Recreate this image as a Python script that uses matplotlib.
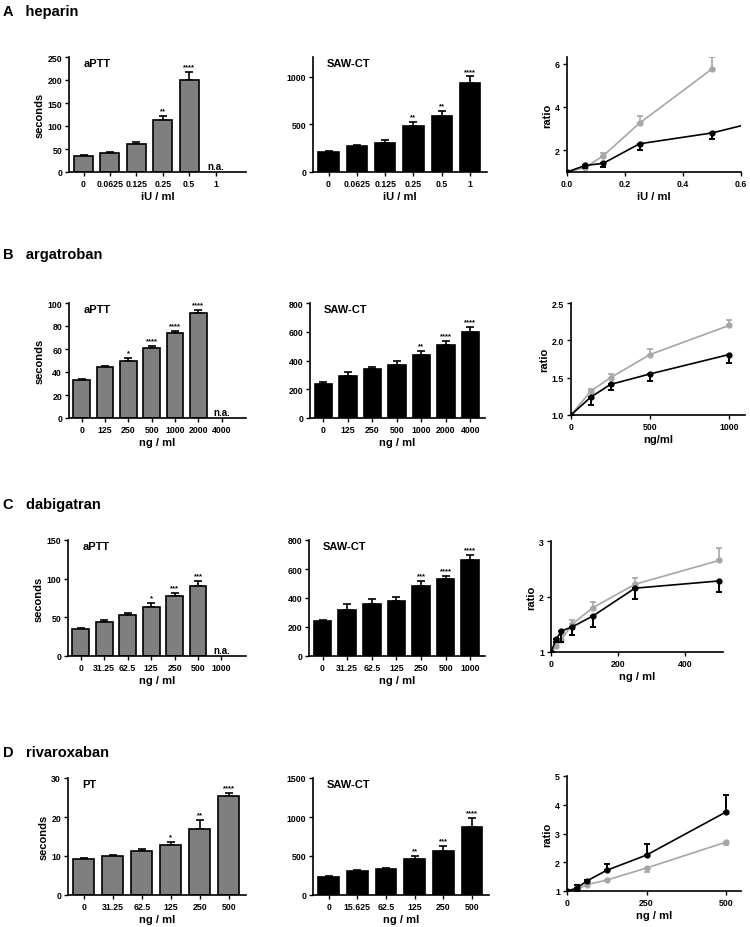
import numpy as np
import matplotlib
matplotlib.use('Agg')
import matplotlib.pyplot as plt

plt.rcParams['font.family'] = ['Liberation Sans', 'DejaVu Sans']
plt.rcParams['font.weight'] = 'bold'
plt.rcParams['axes.labelweight'] = 'bold'

# ---------------- data ----------------
# A heparin
hep_conc = ['0', '0.0625', '0.125', '0.25', '0.5', '1']
hep_aptt = [35, 41, 60, 112, 200, np.nan]
hep_aptt_err = [2, 3, 5, 10, 17, np.nan]
hep_aptt_sig = ['', '', '', '**', '****', '']
hep_saw = [210, 275, 300, 480, 590, 935]
hep_saw_err = [15, 12, 35, 45, 50, 70]
hep_saw_sig = ['', '', '', '**', '**', '****']
hep_x = [0, 0.0625, 0.125, 0.25, 0.5, 1]
hep_ratio_aptt = [1.0, 1.2, 1.75, 3.25, 5.75]
hep_ratio_aptt_err = [0, 0.05, 0.12, 0.35, 0.55]
hep_ratio_saw = [1.0, 1.3, 1.4, 2.3, 2.8, 4.45]
hep_ratio_saw_err = [0, 0.1, 0.18, 0.3, 0.3, 0.3]

# B argatroban
arg_conc = ['0', '125', '250', '500', '1000', '2000', '4000']
arg_aptt = [33, 44, 50, 61, 74, 91, np.nan]
arg_aptt_err = [1, 1, 2, 2, 2, 3, np.nan]
arg_aptt_sig = ['', '', '*', '****', '****', '****', '']
arg_saw = [240, 295, 340, 370, 435, 505, 600]
arg_saw_err = [10, 25, 15, 25, 30, 30, 30]
arg_saw_sig = ['', '', '', '', '**', '****', '****']
arg_x = [0, 125, 250, 500, 1000]
arg_ratio_aptt = [1.0, 1.32, 1.5, 1.81, 2.2]
arg_ratio_aptt_err = [0, 0.03, 0.05, 0.07, 0.07]
arg_ratio_saw = [1.0, 1.24, 1.41, 1.55, 1.81]
arg_ratio_saw_err = [0, 0.1, 0.08, 0.1, 0.12]

# C dabigatran
dab_conc = ['0', '31.25', '62.5', '125', '250', '500', '1000']
dab_aptt = [35, 44, 53, 63, 77, 90, np.nan]
dab_aptt_err = [1, 2, 3, 5, 5, 7, np.nan]
dab_aptt_sig = ['', '', '', '*', '***', '***', '']
dab_saw = [240, 315, 358, 378, 485, 533, 660]
dab_saw_err = [8, 45, 35, 28, 30, 22, 35]
dab_saw_sig = ['', '', '', '', '***', '****', '****']
dab_x = [0, 15.625, 31.25, 62.5, 125, 250, 500]
dab_ratio_aptt = [1.0, 1.1, 1.22, 1.5, 1.8, 2.22, 2.65]
dab_ratio_aptt_err = [0, 0.05, 0.08, 0.08, 0.1, 0.12, 0.22]
dab_ratio_saw = [1.0, 1.23, 1.38, 1.45, 1.65, 2.15, 2.28]
dab_ratio_saw_err = [0, 0.05, 0.2, 0.15, 0.2, 0.2, 0.2]

# D rivaroxaban
riv_pt_conc = ['0', '31.25', '62.5', '125', '250', '500']
riv_pt = [9.3, 9.9, 11.4, 12.9, 17.0, 25.4]
riv_pt_err = [0.3, 0.3, 0.3, 0.6, 2.2, 0.8]
riv_pt_sig = ['', '', '', '*', '**', '****']
riv_saw_conc = ['0', '15.625', '62.5', '125', '250', '500']
riv_saw = [235, 305, 335, 465, 565, 875]
riv_saw_err = [10, 12, 15, 40, 65, 110]
riv_saw_sig = ['', '', '', '**', '***', '****']
riv_x = [0, 31.25, 62.5, 125, 250, 500]
riv_ratio_pt = [1.0, 1.05, 1.22, 1.38, 1.8, 2.7]
riv_ratio_pt_err = [0, 0.05, 0.05, 0.03, 0.15, 0.1]
riv_ratio_saw = [1.0, 1.1, 1.35, 1.72, 2.25, 3.75]
riv_ratio_saw_err = [0, 0.1, 0.05, 0.22, 0.4, 0.6]

GRAY_BAR = '#7f7f7f'
GRAY_LINE = '#a6a6a6'

fig = plt.figure(figsize=(7.5, 9.28), dpi=100)


def px_axes(l, t, r, b):
    return fig.add_axes([l / 750, 1 - b / 928, (r - l) / 750, (b - t) / 928])


def style(ax):
    ax.spines['top'].set_visible(False)
    ax.spines['right'].set_visible(False)
    for s in ['left', 'bottom']:
        ax.spines[s].set_linewidth(1.2)
    ax.tick_params(width=1.0, length=3, labelsize=6.3, pad=2)


def bar_panel(rect, cats, vals, errs, sig, color, ylim, yticks, title, xlabel, ylabel=None, xpad=0.1):
    ax = px_axes(*rect)
    style(ax)
    x = np.arange(len(cats))
    vals = np.array(vals, dtype=float)
    errs = np.array(errs, dtype=float)
    ok = ~np.isnan(vals)
    ax.bar(x[ok], vals[ok], width=0.72, color=color, edgecolor='black', linewidth=1.2, zorder=2)
    ax.errorbar(x[ok], vals[ok], yerr=[np.zeros(ok.sum()), errs[ok]], fmt='none',
                ecolor='black', elinewidth=1.2, capsize=3, capthick=1.2, zorder=1)
    span = ylim[1] - ylim[0]
    for i in x:
        if not ok[i]:
            ax.text(i, span * 0.01, 'n.a.', ha='center', va='bottom', fontsize=7)
        elif sig[i]:
            ax.text(i, vals[i] + errs[i] + span * 0.015, sig[i], ha='center', va='bottom', fontsize=5.5)
    ax.set_xlim(-0.55, len(cats) - 0.5 + xpad)
    ax.set_ylim(*ylim)
    ax.set_yticks(yticks)
    ax.set_xticks(x)
    ax.set_xticklabels(cats)
    ax.set_xlabel(xlabel, fontsize=8, labelpad=2)
    if ylabel:
        ax.set_ylabel(ylabel, fontsize=8, labelpad=2)
    ax.text(0.08, 0.99, title, transform=ax.transAxes, ha='left', va='top', fontsize=8)
    return ax


def ratio_panel(rect, xa, ya, ea, a_up, xs, ys, es, xlim, ylim, xticks, yticks, xlabel, xfmt=None, yfmt=None):
    ax = px_axes(*rect)
    style(ax)
    na = len(ya)
    ns = len(ys)
    ea = np.array(ea)
    es = np.array(es)
    zero_a = np.zeros(na)
    zero_s = np.zeros(ns)
    yerr_a = [zero_a, ea] if a_up else [ea, zero_a]
    yerr_s = [es, zero_s] if a_up else [zero_s, es]
    ax.errorbar(xa[:na], ya, yerr=yerr_a, color=GRAY_LINE, marker='o', markersize=3.5,
                linewidth=1.2, elinewidth=1.2, capsize=2.5, capthick=1.2, zorder=2)
    ax.errorbar(xs[:ns], ys, yerr=yerr_s, color='black', marker='o', markersize=3.5,
                linewidth=1.2, elinewidth=1.4, capsize=2.5, capthick=1.4, zorder=3)
    ax.set_xlim(*xlim)
    ax.set_ylim(*ylim)
    ax.set_xticks(xticks)
    ax.set_yticks(yticks)
    if xfmt:
        ax.set_xticklabels([xfmt.format(v) for v in xticks])
    if yfmt:
        ax.set_yticklabels([yfmt.format(v) for v in yticks])
    ax.set_xlabel(xlabel, fontsize=8, labelpad=2)
    ax.set_ylabel('ratio', fontsize=8, labelpad=2)
    return ax


# section headers
for y, lab in [(12, 'A   heparin'), (255, 'B   argatroban'), (505, 'C   dabigatran'), (753, 'D   rivaroxaban')]:
    fig.text(3 / 750, 1 - y / 928, lab, fontsize=10.5, fontweight='bold', va='center', ha='left')

# row A
bar_panel((69, 58, 246, 173), hep_conc, hep_aptt, hep_aptt_err, hep_aptt_sig, GRAY_BAR,
          (0, 250), [0, 50, 100, 150, 200, 250], 'aPTT', 'iU / ml', 'seconds', xpad=0.65)
bar_panel((313, 58, 487, 173), hep_conc, hep_saw, hep_saw_err, hep_saw_sig, 'black',
          (0, 1210), [0, 500, 1000], 'SAW-CT', 'iU / ml')
ratio_panel((567, 58, 741, 173), np.array(hep_x), hep_ratio_aptt, hep_ratio_aptt_err, True,
            np.array(hep_x), hep_ratio_saw, hep_ratio_saw_err,
            (0, 0.6), (1, 6.3), [0, 0.2, 0.4, 0.6], [2, 4, 6], 'iU / ml', '{:.1f}')

# row B
bar_panel((69, 304, 246, 419), arg_conc, arg_aptt, arg_aptt_err, arg_aptt_sig, GRAY_BAR,
          (0, 100), [0, 20, 40, 60, 80, 100], 'aPTT', 'ng / ml', 'seconds', xpad=0.55)
bar_panel((310, 304, 485, 419), arg_conc, arg_saw, arg_saw_err, arg_saw_sig, 'black',
          (0, 800), [0, 200, 400, 600, 800], 'SAW-CT', 'ng / ml')
ratio_panel((571, 304, 745, 416), np.array(arg_x), arg_ratio_aptt, arg_ratio_aptt_err, True,
            np.array(arg_x), arg_ratio_saw, arg_ratio_saw_err,
            (0, 1100), (1, 2.5), [0, 500, 1000], [1.0, 1.5, 2.0, 2.5], 'ng/ml', yfmt='{:.1f}')

# row C
bar_panel((68, 541, 246, 657), dab_conc, dab_aptt, dab_aptt_err, dab_aptt_sig, GRAY_BAR,
          (0, 150), [0, 50, 100, 150], 'aPTT', 'ng / ml', 'seconds', xpad=0.55)
bar_panel((309, 541, 485, 657), dab_conc, dab_saw, dab_saw_err, dab_saw_sig, 'black',
          (0, 800), [0, 200, 400, 600, 800], 'SAW-CT', 'ng / ml')
ratio_panel((551, 542, 723, 653), np.array(dab_x), dab_ratio_aptt, dab_ratio_aptt_err, True,
            np.array(dab_x), dab_ratio_saw, dab_ratio_saw_err,
            (0, 512), (1, 3), [0, 200, 400], [1, 2, 3], 'ng / ml')

# row D
bar_panel((68, 779, 246, 896), riv_pt_conc, riv_pt, riv_pt_err, riv_pt_sig, GRAY_BAR,
          (0, 30), [0, 10, 20, 30], 'PT', 'ng / ml', 'seconds', xpad=0.1)
bar_panel((313, 779, 489, 896), riv_saw_conc, riv_saw, riv_saw_err, riv_saw_sig, 'black',
          (0, 1500), [0, 500, 1000, 1500], 'SAW-CT', 'ng / ml')
ratio_panel((567, 777, 741, 892), np.array(riv_x), riv_ratio_pt, riv_ratio_pt_err, False,
            np.array(riv_x), riv_ratio_saw, riv_ratio_saw_err,
            (0, 547), (1, 5), [0, 250, 500], [1, 2, 3, 4, 5], 'ng / ml')

fig.savefig('out.png', dpi=100)
